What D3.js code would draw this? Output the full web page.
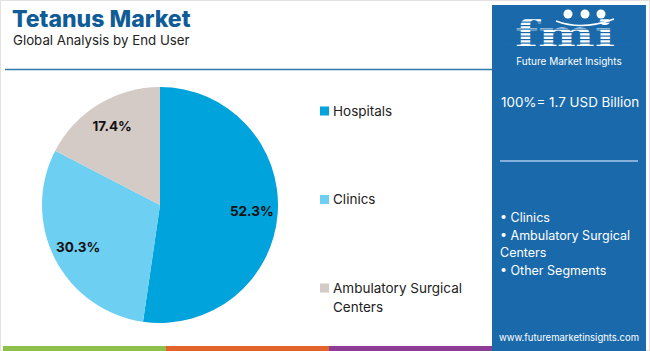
<!DOCTYPE html>
<html>
<head>
<meta charset="utf-8">
<script src="https://cdn.jsdelivr.net/npm/d3@7"></script>
<style>
  body { margin: 0; background: #fff; }
  svg { display: block; font-family: Inter, "Open Sans", sans-serif; }
</style>
</head>
<body>
<script>
const WIDTH = 650;
const HEIGHT = 351;

// chart data
const segments = ["Hospitals", "Clinics", "Ambulatory Surgical Centers"];
const shares = [52.3, 30.3, 17.4];
const colors = ["#00a3dc", "#6dcff2", "#d4cac6"];
const legendLines = [["Hospitals"], ["Clinics"], ["Ambulatory Surgical", "Centers"]];
const panelItems = [["• Clinics"], ["• Ambulatory Surgical", "Centers"], ["• Other Segments"]];
const stripeColors = ["#8cc04a", "#e3632d", "#8e3d97"];

const svg = d3.select("body").append("svg")
  .attr("width", WIDTH).attr("height", HEIGHT);

svg.append("rect")
  .attr("x", 0.5).attr("y", 0.5)
  .attr("width", WIDTH - 1).attr("height", HEIGHT - 1)
  .attr("fill", "#fff").attr("stroke", "#e2e2e2");

// title
svg.append("text").attr("x", 12).attr("y", 27)
  .attr("font-size", 23).attr("font-weight", 800).attr("fill", "#0f5c97")
  .text("Tetanus Market");
svg.append("text").attr("x", 13).attr("y", 45)
  .attr("font-size", 13.3).attr("fill", "#222")
  .text("Global Analysis by End User");
svg.append("line").attr("x1", 5).attr("x2", 492).attr("y1", 69.5).attr("y2", 69.5)
  .attr("stroke", "#2f78ac").attr("stroke-width", 1.6);

// bottom stripes
const stripeX = d3.scaleBand().domain(d3.range(stripeColors.length)).range([3, 492]);
svg.selectAll(".stripe").data(stripeColors).enter().append("rect")
  .attr("x", (d, i) => stripeX(i)).attr("y", 346)
  .attr("width", stripeX.bandwidth()).attr("height", 5)
  .attr("fill", d => d);

// pie
const cx = 160, cy = 205, r = 118;
const pie = d3.pie().sort(null).value(d => d);
const arcs = pie(shares);
const arc = d3.arc().innerRadius(0).outerRadius(r);
const labelArc = d3.arc().innerRadius(r * 0.78).outerRadius(r * 0.78);
const g = svg.append("g").attr("transform", `translate(${cx},${cy})`);
g.selectAll("path").data(arcs).enter().append("path")
  .attr("d", arc).attr("fill", (d, i) => colors[i]);
g.selectAll(".lbl").data(arcs).enter().append("text")
  .attr("transform", d => `translate(${labelArc.centroid(d)})`)
  .attr("text-anchor", "middle").attr("dy", "0.35em")
  .attr("font-size", 13.5).attr("font-weight", 700).attr("fill", "#111")
  .text(d => d.data.toFixed(1) + "%");

// legend
const legendY = d3.scalePoint().domain(segments).range([111, 288]);
const leg = svg.selectAll(".leg").data(segments).enter().append("g")
  .attr("transform", d => `translate(320,${legendY(d)})`);
leg.append("rect").attr("x", 0).attr("y", -4.5).attr("width", 9).attr("height", 9)
  .attr("fill", (d, i) => colors[i]);
leg.append("text").attr("x", 13).attr("y", 0)
  .attr("font-size", 13.5).attr("fill", "#222")
  .selectAll("tspan").data((d, i) => legendLines[i]).enter().append("tspan")
  .attr("x", 13).attr("dy", (d, j) => j === 0 ? "0.35em" : "1.4em")
  .text(d => d);

// right panel
const px = 492, pw = 154;
svg.append("rect").attr("x", px).attr("y", 5).attr("width", pw).attr("height", HEIGHT - 5)
  .attr("fill", "#1a6aab");

// logo
const logo = svg.append("g");
logo.append("text").attr("x", 515).attr("y", 47)
  .attr("font-family", "DejaVu Serif, serif").attr("font-weight", 700)
  .attr("font-size", 38).attr("fill", "#fff")
  .attr("textLength", 100).attr("lengthAdjust", "spacingAndGlyphs")
  .text("fmi");
logo.selectAll(".band").data(d3.range(18, 48, 3.5)).enter().append("rect")
  .attr("x", 505).attr("y", d => d).attr("width", 125).attr("height", 1.2)
  .attr("fill", "#1a6aab");
logo.selectAll(".icon").data([568, 585, 601]).enter().append("circle")
  .attr("cx", d => d).attr("cy", 14).attr("r", 4.5)
  .attr("fill", "#fff");
logo.append("path").attr("d", "M556,21 Q582,31 614,19")
  .attr("fill", "none").attr("stroke", "#fff").attr("stroke-width", 1.5);
svg.append("text").attr("x", 569).attr("y", 65).attr("text-anchor", "middle")
  .attr("font-size", 10).attr("fill", "#fff")
  .text("Future Market Insights");

svg.append("text").attr("x", 501).attr("y", 107)
  .attr("font-size", 13.4).attr("fill", "#fff")
  .text("100%= 1.7 USD Billion");
svg.append("line").attr("x1", 500).attr("x2", 638).attr("y1", 161).attr("y2", 161)
  .attr("stroke", "#a8c9ea").attr("stroke-width", 1.5);

const itemText = svg.append("text").attr("font-size", 12.5).attr("fill", "#fff");
let lineIdx = 0;
panelItems.forEach(item => {
  item.forEach(line => {
    itemText.append("tspan").attr("x", 500).attr("y", 222 + lineIdx * 17.7).text(line);
    lineIdx++;
  });
});

svg.append("text").attr("x", 569).attr("y", 341).attr("text-anchor", "middle")
  .attr("font-size", 9.5).attr("fill", "#fff")
  .text("www.futuremarketinsights.com");
</script>
</body>
</html>
